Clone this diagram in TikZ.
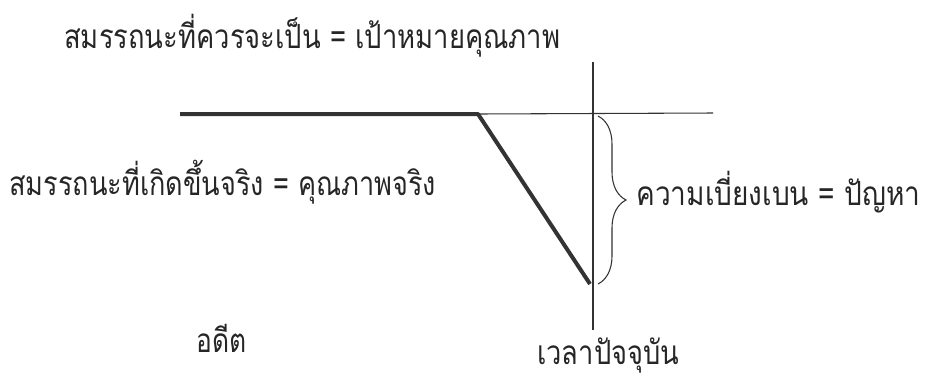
\documentclass[tikz,border=0pt]{standalone}
\usepackage{fontspec}
\usepackage{graphicx}
\newfontfamily\thaifont[Script=Thai]{Loma}
\usetikzlibrary{decorations.pathreplacing}
\newcommand{\fitw}[2]{\resizebox{#1}{\height}{#2}}
\begin{document}
\begin{tikzpicture}[x=0.75pt,y=-0.75pt,
  lbl/.style={font=\thaifont\fontsize{25}{30}\selectfont, inner sep=0pt, text=black!85, anchor=base west},
  thin line/.style={draw=black!80, line width=0.8pt},
  thick line/.style={draw=black!80, line width=3pt}]
\useasboundingbox (0,0) rectangle (926,380);
\coordinate (s) at (180,114);
\coordinate (k) at (478,114);
\coordinate (b) at (590,284);
\coordinate (hr) at (713,113);
\coordinate (vt) at (593,62);
\coordinate (vb) at (593,330);
\draw[thin line] (k) -- (hr);
\draw[thin line] (vt) -- (vb);
\draw[thick line, line join=round] (s) -- (k) -- (b);
\coordinate (bt) at (598,116);
\coordinate (bb) at (598,284);
\draw[thin line, decorate, decoration={brace, amplitude=21pt}] (bt) -- (bb);
\node[lbl] (t1) at (64,48) {\fitw{372pt}{สมรรถนะที่ควรจะเป็น = เป้าหมายคุณภาพ}};
\node[lbl] (t2) at (9,195) {\fitw{320pt}{สมรรถนะที่เกิดขึ้นจริง = คุณภาพจริง}};
\node[lbl] (t3) at (636,205) {\fitw{213pt}{ความเบี่ยงเบน = ปัญหา}};
\node[lbl] (t4) at (196,352) {\fitw{37.5pt}{อดีต}};
\node[lbl] (t5) at (537,364) {\fitw{106.5pt}{เวลาปัจจุบัน}};
\end{tikzpicture}
\end{document}
